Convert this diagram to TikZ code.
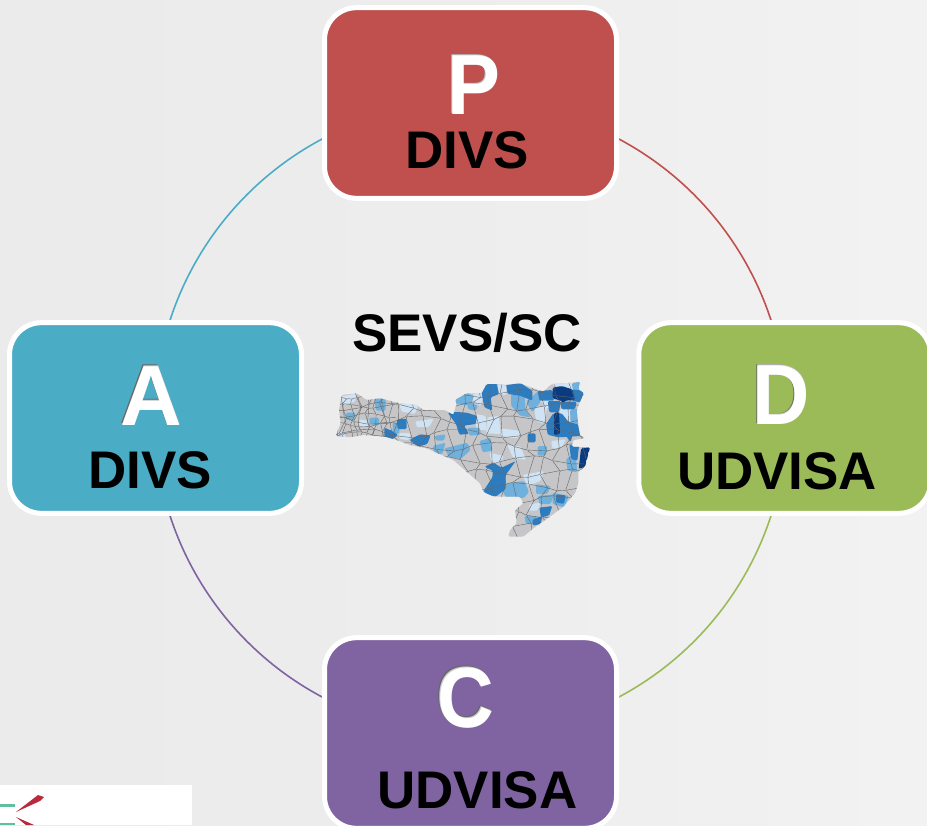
\documentclass[tikz,border=0pt]{standalone}
\usepackage{fontspec}
\setmainfont{Liberation Sans}
\tikzset{
  card/.style={draw=white,line width=3.75pt,rounded corners=24pt,minimum width=219pt,minimum height=143pt,inner sep=0pt},
  ring/.style={line width=1.2pt},
  big/.style={font=\fontsize{64}{64}\selectfont\bfseries,text=white,anchor=base,inner sep=0pt},
  bigshade/.style={big,text=black!60},
  bigmid/.style={big,text=black!22},
  small/.style={font=\fontsize{39.7}{40}\selectfont\bfseries,text=black,anchor=base,inner sep=0pt},
}
\definecolor{cred}{HTML}{C0504D}
\definecolor{cgreen}{HTML}{9BBB59}
\definecolor{cpurple}{HTML}{8064A2}
\definecolor{cteal}{HTML}{4BACC6}
\definecolor{mapgray}{HTML}{C6C6C8}
\definecolor{bl}{HTML}{CFE3F5}
\definecolor{bm}{HTML}{6FB0DC}
\definecolor{bs}{HTML}{2E7CC0}
\definecolor{bd}{HTML}{0A3A80}
\definecolor{logored}{HTML}{B82A3C}
\definecolor{logogreen}{HTML}{5FC0A0}
\begin{document}
\begin{tikzpicture}[x=.75pt,y=-.75pt]
\useasboundingbox (0,0) rectangle (927,825);
\shade[left color=black!8,right color=black!5,middle color=black!7] (0,0) rectangle (927,825);
% logo fragment
\fill[white] (0,785) rectangle (192,825);
\fill[logogreen] (0,804) rectangle (15,807);
\fill[logogreen] (0,823) rectangle (15,825);
\fill[logored] (16,812) -- (38,795) -- (44,797) -- (40,801) -- cycle;
\fill[logored] (16,817) -- (34,825) -- (26,825) -- cycle;
% ring
\coordinate (ctr) at (470.5,418);
\draw[ring,cred] (ctr) ++(-63:316) arc[start angle=-63,end angle=-17,radius=316];
\draw[ring,cgreen] (ctr) ++(17:316) arc[start angle=17,end angle=63,radius=316];
\draw[ring,cpurple] (ctr) ++(117:316) arc[start angle=117,end angle=163,radius=316];
\draw[ring,cteal] (ctr) ++(197:316) arc[start angle=197,end angle=243,radius=316];
% cards
\node[card,fill=cred] (p) at (470.5,103) {};
\node[card,fill=cgreen] (d) at (784.75,418) {};
\node[card,fill=cpurple] (c) at (470.5,733) {};
\node[card,fill=cteal] (a) at (155.5,418) {};
% letters
\node[bigshade,xscale=.93] (ps) at (472.6,113) {P};
\node[bigmid,xscale=.93] (pm) at (473.3,113.7) {P};
\node[big,xscale=.93] (pl) at (474,114.4) {P};
\node[small] (pt) at (467,168) {DIVS};
\node[bigshade,xscale=.93] (ds) at (780.1,423) {D};
\node[bigmid,xscale=.93] (dm) at (780.8,423.7) {D};
\node[big,xscale=.93] (dl) at (781.5,424.4) {D};
\node[small] (dt) at (777,489) {UDVISA};
\node[bigshade,xscale=.92] (cs) at (464,725.6) {C};
\node[bigmid,xscale=.92] (cm) at (464.7,726.3) {C};
\node[big,xscale=.92] (cl) at (465.4,727) {C};
\node[small] (ct) at (477.5,808) {UDVISA};
\node[bigshade] (as) at (150.3,423.6) {A};
\node[bigmid] (am) at (151,424.3) {A};
\node[big] (al) at (151.7,425) {A};
\node[small] (at) at (150.5,488) {DIVS};
\node[small] (title) at (467,351) {SEVS/SC};
% map
\begin{scope}[shift={(320,360)},x=.25pt,y=-.25pt,rounded corners=1pt]
\def\outline{(47,228)--(62,190)--(57,150)--(65,105)--(110,100)--(140,120)--(180,115)--(240,130)--(290,135)--(310,150)--(375,150)--(400,165)--(410,130)--(405,120)--(440,100)--(485,100)--(500,72)--(530,72)--(560,75)--(600,70)--(640,85)--(670,95)--(695,72)--(760,68)--(780,65)--(775,88)--(792,100)--(780,125)--(770,150)--(775,200)--(780,225)--(795,235)--(760,240)--(755,260)--(810,262)--(795,320)--(775,335)--(775,370)--(765,400)--(730,440)--(690,470)--(640,505)--(610,530)--(565,530)--(570,510)--(590,490)--(585,450)--(610,430)--(600,410)--(520,410)--(490,395)--(480,370)--(400,300)--(320,265)--(270,255)--(230,240)--(195,230)--(130,225)--(90,232)--cycle}
\fill[mapgray] \outline;
\begin{scope}
\clip \outline;
% light
\fill[bl] (62,110)--(110,100)--(105,125)--(70,135)--cycle;
\fill[bl] (235,125)--(295,135)--(285,162)--(245,155)--cycle;
\fill[bl] (285,185)--(342,175)--(328,200)--(292,202)--cycle;
\fill[bl] (47,228)--(62,212)--(80,232)--cycle;
\fill[bl] (468,162)--(497,168)--(500,212)--(468,208)--cycle;
\fill[bl] (503,172)--(537,168)--(542,222)--(498,220)--cycle;
\fill[bl] (543,205)--(602,213)--(592,235)--(543,228)--cycle;
\fill[bl] (562,255)--(602,260)--(618,300)--(578,292)--cycle;
\fill[bl] (508,278)--(552,288)--(537,312)--(513,302)--cycle;
\fill[bl] (608,345)--(672,333)--(662,362)--(623,378)--cycle;
\fill[bl] (462,98)--(492,103)--(482,138)--(458,122)--cycle;
\fill[bl] (533,72)--(562,78)--(557,107)--(533,97)--cycle;
\fill[bl] (658,118)--(697,118)--(682,147)--cycle;
\fill[bl] (643,143)--(682,138)--(672,192)--(648,182)--cycle;
\fill[bl] (718,148)--(752,143)--(752,197)--(723,177)--cycle;
\fill[bl] (693,243)--(737,238)--(727,260)--(698,267)--cycle;
\fill[bl] (628,433)--(662,428)--(652,452)--(628,452)--cycle;
\fill[bl] (238,218)--(272,220)--(267,240)--(238,237)--cycle;
\fill[bl] (695,72)--(760,68)--(770,92)--(710,82)--cycle;
\fill[bl] (118,178)--(147,183)--(142,202)--(118,197)--cycle;
% medium
\fill[bm] (403,118)--(440,98)--(462,108)--(452,137)--(408,132)--cycle;
\fill[bm] (443,123)--(474,138)--(467,152)--(443,147)--cycle;
\fill[bm] (573,103)--(614,108)--(617,150)--(632,172)--(600,167)--(573,137)--cycle;
\fill[bm] (618,125)--(655,93)--(662,125)--(637,157)--cycle;
\fill[bm] (538,375)--(612,363)--(627,395)--(612,414)--(558,412)--cycle;
\fill[bm] (373,265)--(442,248)--(452,270)--(422,297)--(388,292)--cycle;
\fill[bm] (443,203)--(480,203)--(482,224)--(448,227)--cycle;
\fill[bm] (478,243)--(512,233)--(517,272)--(488,277)--cycle;
\fill[bm] (343,228)--(377,223)--(372,242)--(348,242)--cycle;
\fill[bm] (338,258)--(377,248)--(367,282)--(343,280)--cycle;
\fill[bm] (163,116)--(197,116)--(197,152)--(168,152)--cycle;
\fill[bm] (78,158)--(107,158)--(102,182)--(78,180)--cycle;
\fill[bm] (148,173)--(177,173)--(177,197)--(148,192)--cycle;
\fill[bm] (218,188)--(242,188)--(237,222)--(218,217)--cycle;
\fill[bm] (648,373)--(692,378)--(682,402)--(648,402)--cycle;
\fill[bm] (653,408)--(702,403)--(692,432)--(658,432)--cycle;
\fill[bm] (738,298)--(767,278)--(772,337)--(743,332)--cycle;
\fill[bm] (698,398)--(747,408)--(732,442)--(698,432)--cycle;
\fill[bm] (613,468)--(652,468)--(637,492)--(618,492)--cycle;
\fill[bm] (653,258)--(682,258)--(677,287)--(653,287)--cycle;
\fill[bm] (755,70)--(782,65)--(790,100)--(760,95)--cycle;
\fill[bm] (750,150)--(775,145)--(778,195)--(752,190)--cycle;
% strong
\fill[bs] (485,100)--(500,70)--(530,70)--(537,102)--(512,112)--(517,152)--(493,142)--cycle;
\fill[bs] (558,73)--(600,68)--(637,93)--(637,122)--(600,107)--(563,102)--cycle;
\fill[bs] (653,93)--(697,90)--(702,122)--(658,122)--cycle;
\fill[bs] (683,123)--(722,123)--(717,157)--(688,157)--cycle;
\fill[bs] (755,88)--(794,93)--(782,127)--(755,122)--cycle;
\fill[bs] (720,125)--(770,125)--(765,148)--(725,148)--cycle;
\fill[bs] (383,158)--(410,156)--(440,158)--(472,168)--(467,192)--(432,197)--(447,222)--(418,224)--(408,192)--cycle;
\fill[bs] (493,320)--(520,308)--(545,323)--(587,303)--(557,345)--(557,387)--(527,410)--(488,397)--(518,350)--(518,332)--cycle;
\fill[bs] (623,220)--(647,220)--(647,247)--(623,247)--cycle;
\fill[bs] (268,240)--(300,223)--(332,226)--(322,252)--(295,260)--cycle;
\fill[bs] (193,203)--(217,213)--(234,225)--(205,247)--(193,237)--cycle;
\fill[bs] (230,178)--(260,176)--(260,207)--(233,207)--cycle;
\fill[bs] (678,193)--(700,160)--(725,160)--(745,185)--(778,195)--(782,228)--(715,232)--(683,224)--cycle;
\fill[bs] (748,253)--(777,258)--(772,302)--(753,297)--cycle;
\fill[bs] (658,443)--(697,438)--(687,467)--(663,472)--cycle;
\fill[bs] (638,478)--(667,468)--(662,492)--(638,497)--cycle;
\fill[bs] (708,403)--(737,406)--(732,432)--(708,427)--cycle;
\fill[bs] (738,228)--(757,226)--(752,247)--cycle;
% dark
\fill[bd] (698,83)--(725,78)--(757,88)--(765,120)--(735,122)--(730,130)--(725,123)--(698,115)--cycle;
\fill[bd] (702,160)--(717,155)--(720,222)--(702,225)--cycle;
\fill[bd] (783,265)--(810,262)--(795,320)--(776,327)--cycle;
% municipal lines: a jittered mesh, finer to the west
\foreach \i in {0,...,19}{
  \foreach \j in {0,...,12}{
    \pgfmathsetmacro{\xa}{30+\i*40+13*sin(\i*97+\j*131)}
    \pgfmathsetmacro{\ya}{60+\j*40+13*sin(\i*53+\j*211)}
    \pgfmathsetmacro{\xb}{30+(\i+1)*40+13*sin((\i+1)*97+\j*131)}
    \pgfmathsetmacro{\yb}{60+\j*40+13*sin((\i+1)*53+\j*211)}
    \pgfmathsetmacro{\xc}{30+\i*40+13*sin(\i*97+(\j+1)*131)}
    \pgfmathsetmacro{\yc}{60+(\j+1)*40+13*sin(\i*53+(\j+1)*211)}
    \draw[black!60,line width=.3pt] (\xc,\yc) -- (\xa,\ya) -- (\xb,\yb);
  }
}
\foreach \i in {0,...,7}{
  \foreach \j in {0,...,4}{
    \pgfmathsetmacro{\xa}{50+\i*23+7*sin(\i*97+\j*131)}
    \pgfmathsetmacro{\ya}{110+\j*28+7*sin(\i*53+\j*211)}
    \pgfmathsetmacro{\xb}{50+(\i+1)*23+7*sin((\i+1)*97+\j*131)}
    \pgfmathsetmacro{\yb}{110+\j*28+7*sin((\i+1)*53+\j*211)}
    \pgfmathsetmacro{\xc}{50+\i*23+7*sin(\i*97+(\j+1)*131)}
    \pgfmathsetmacro{\yc}{110+(\j+1)*28+7*sin(\i*53+(\j+1)*211)}
    \draw[black!60,line width=.3pt] (\xc,\yc) -- (\xa,\ya) -- (\xb,\yb);
  }
}
\end{scope}
\end{scope}
\end{tikzpicture}
\end{document}
